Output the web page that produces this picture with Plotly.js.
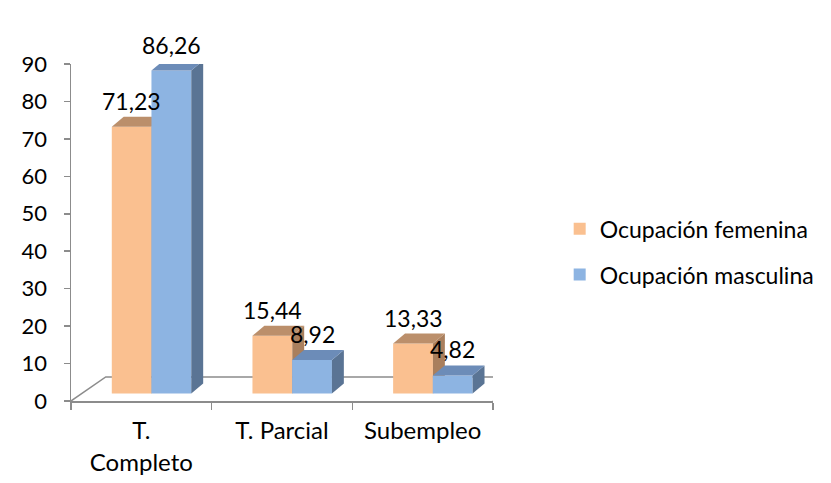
<!DOCTYPE html>
<html>
<head>
<meta charset="utf-8">
<script src="https://cdn.plot.ly/plotly-3.0.1.min.js"></script>
<style>html,body{margin:0;padding:0;background:#fff;}#chart{width:831px;height:483px;}</style>
</head>
<body>
<div id="chart"></div>
<script>
// ---- data ----
const categories = ["T.<br>Completo", "T. Parcial", "Subempleo"];
const seriesNames = ["Ocupación femenina", "Ocupación masculina"];
const femenina = [71.23, 15.44, 13.33];
const masculina = [86.26, 8.92, 4.82];
const yTicks = [0, 10, 20, 30, 40, 50, 60, 70, 80, 90];

// ---- styling / geometry constants ----
const FONT = "Lato, 'Open Sans', sans-serif";
const FS = 22;
const BAR_W = 0.283;
const FRONT_L = [0.29, 0.572];        // left edge of each series' front face within a category
const DX = 0.0847, DY = 2.67;         // 3D depth of the bars (axis units)
const BASE = 2.0;                     // bar baseline lift above the floor front edge
const FLOOR_DX = 0.247, FLOOR_DY = 6.41;
const colors = [
  {front: "#FAC090", top: "#BB8F6B", side: "#A97F5D"},
  {front: "#8DB4E2", top: "#6C8CB8", side: "#5A7494"}
];

const series = [femenina, masculina];
const traces = [];
const annotations = [];
series.forEach((vals, s) => {
  const ax = s === 0 ? "y2" : "y3";
  const c = colors[s];
  vals.forEach((v, i) => {
    const xl = i + FRONT_L[s], xr = xl + BAR_W;
    traces.push({type: "scatter", mode: "lines", yaxis: ax, x: [xr, xr + DX, xr + DX, xr, xr],
      y: [0, DY, v + DY, v, 0], fill: "toself", fillcolor: c.side, line: {width: 0, color: c.side},
      hoverinfo: "skip", showlegend: false});
    traces.push({type: "scatter", mode: "lines", yaxis: ax, x: [xl, xl + DX, xr + DX, xr, xl],
      y: [v, v + DY, v + DY, v, v], fill: "toself", fillcolor: c.top, line: {width: 0, color: c.top},
      hoverinfo: "skip", showlegend: false});
    annotations.push({xref: "x", yref: ax, x: xl + BAR_W / 2, y: v, yshift: 26, yanchor: "middle",
      xanchor: "center", showarrow: false, text: v.toFixed(2).replace(".", ","),
      font: {family: FONT, size: 23, color: "#000"}});
  });
  traces.push({type: "bar", name: seriesNames[s], yaxis: ax, legendgroup: "g" + s,
    x: vals.map((v, i) => i + FRONT_L[s] + BAR_W / 2), y: vals, width: BAR_W,
    marker: {color: c.front, line: {width: 0}}, hoverinfo: "skip"});
});

const layout = {
  width: 831, height: 483,
  margin: {l: 71, r: 335, t: 64, b: 82},
  paper_bgcolor: "#fff", plot_bgcolor: "rgba(0,0,0,0)",
  font: {family: FONT, size: FS, color: "#000"},
  barmode: "overlay",
  showlegend: true,
  legend: {x: 1.158, xanchor: "left", y: 0.575, yanchor: "top", traceorder: "grouped",
    tracegroupgap: 13, font: {family: FONT, size: 23, color: "#000"}, bgcolor: "rgba(0,0,0,0)"},
  xaxis: {range: [0, 3], tickmode: "array", tickvals: [0.5, 1.5, 2.5], ticktext: categories,
    ticks: "", showgrid: false, zeroline: false, showline: true, linecolor: "#8C8C8C", linewidth: 1.5,
    ticklabelstandoff: 8, fixedrange: true, tickfont: {family: FONT, size: 24, color: "#000"},
    minor: {tickmode: "array", tickvals: [0, 1, 2, 3], ticks: "outside", ticklen: 7, tickcolor: "#8C8C8C", tickwidth: 1.5, showgrid: false}},
  yaxis: {range: [0, 90], tickmode: "array", tickvals: yTicks, ticks: "outside", ticklen: 6,
    tickcolor: "#8C8C8C", tickwidth: 1.5, showline: true, linecolor: "#8C8C8C", linewidth: 1.5,
    showgrid: false, zeroline: false, ticklabelstandoff: 12, fixedrange: true},
  yaxis2: {overlaying: "y", range: [-BASE, 90 - BASE], visible: false, fixedrange: true},
  yaxis3: {overlaying: "y", range: [-BASE, 90 - BASE], visible: false, fixedrange: true},
  shapes: [{type: "path", xref: "x", yref: "y", layer: "below",
    path: `M0,0 L${FLOOR_DX},${FLOOR_DY} L${3 + FLOOR_DX},${FLOOR_DY} L3,0`,
    line: {color: "#8C8C8C", width: 1.5}}],
  annotations: annotations
};

Plotly.newPlot("chart", traces, layout, {staticPlot: true, displayModeBar: false});
</script>
</body>
</html>
